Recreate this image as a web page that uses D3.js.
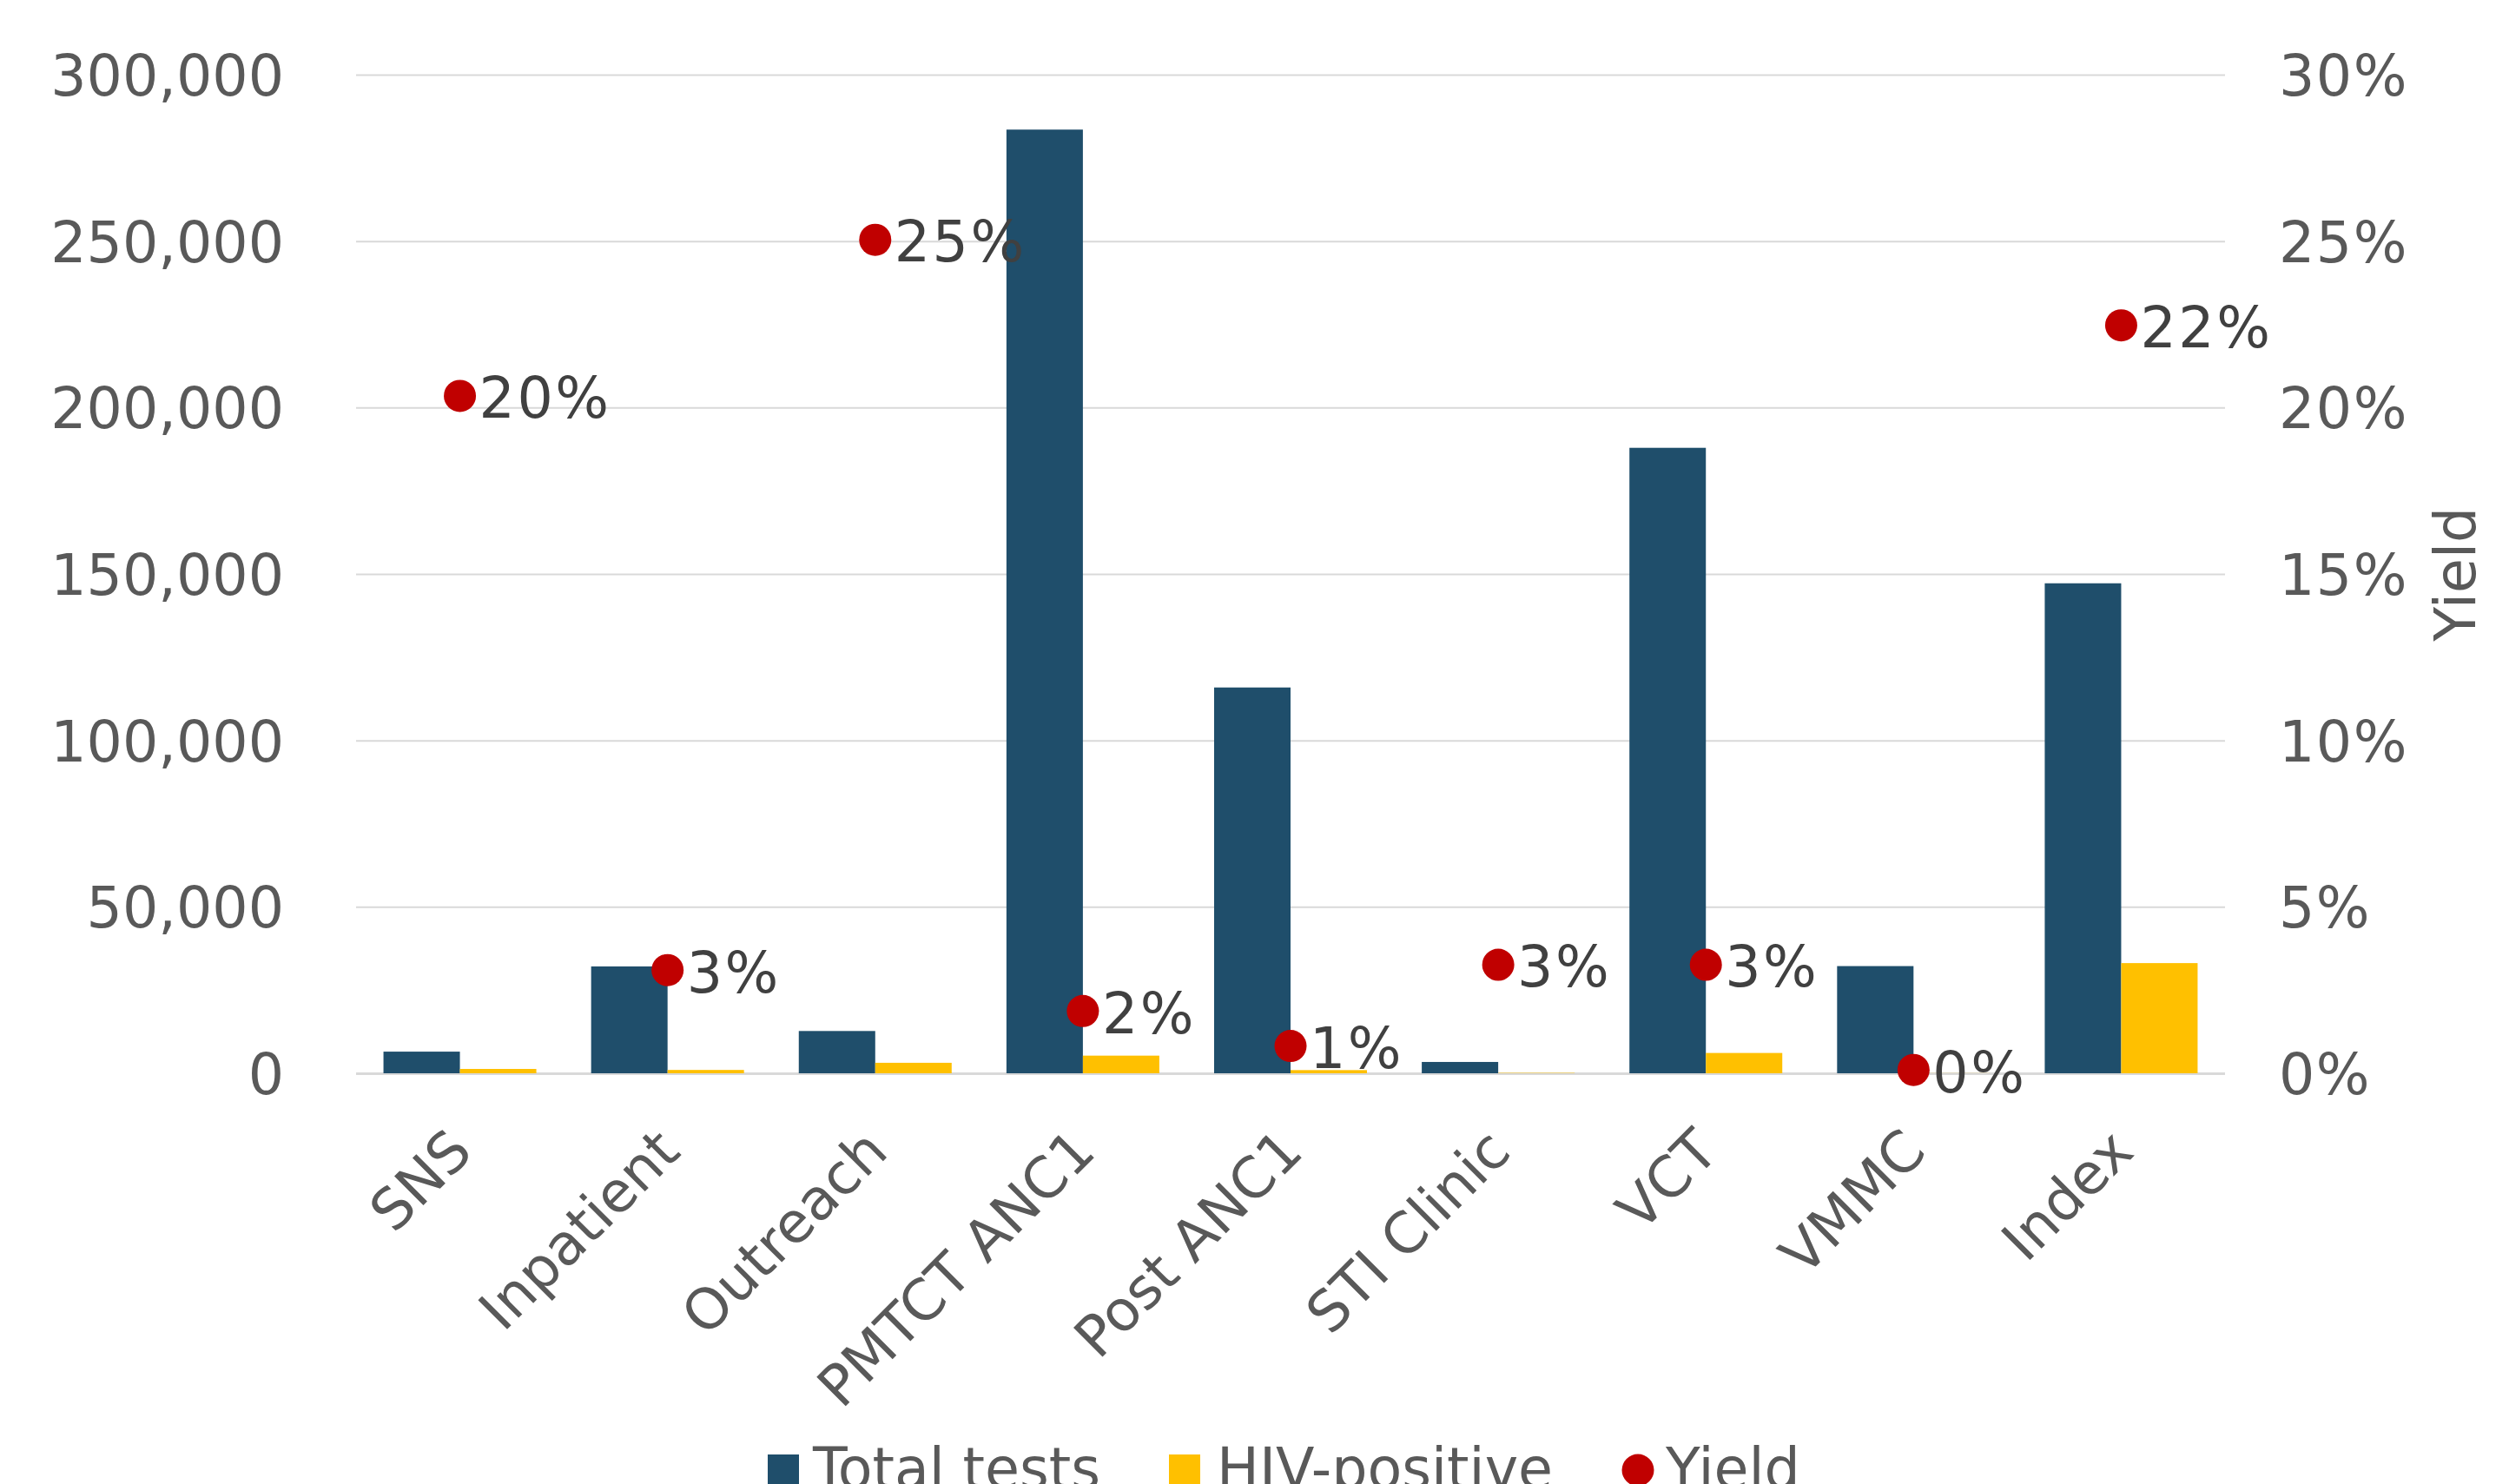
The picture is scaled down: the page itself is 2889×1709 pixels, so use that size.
<!DOCTYPE html>
<html>
<head>
<meta charset="utf-8">
<script src="https://cdn.jsdelivr.net/npm/d3@7"></script>
<style>
  html, body { margin: 0; padding: 0; background: #ffffff; overflow: hidden; }
  svg { display: block; }
  text { font-family: Verdana, "DejaVu Sans", sans-serif; }
</style>
</head>
<body>
<svg id="chart" width="2889" height="1709"></svg>
<script>
const categories = ["SNS", "Inpatient", "Outreach", "PMTCT ANC1", "Post ANC1", "STI Clinic", "VCT", "VMMC", "Index"];
const totalTests = [6500, 32100, 12700, 283500, 115900, 3400, 187900, 32200, 147200];
const hivPositive = [1300, 1000, 3150, 5300, 950, 110, 6100, 30, 33100];
const yieldPct = [0.2035, 0.031, 0.2504, 0.0187, 0.0082, 0.0326, 0.0326, 0.001, 0.2247];
const yieldLabels = ["20%", "3%", "25%", "2%", "1%", "3%", "3%", "0%", "22%"];
const leftTicks = [0, 50000, 100000, 150000, 200000, 250000, 300000];
const rightTicks = [0, 0.05, 0.10, 0.15, 0.20, 0.25, 0.30];
const seriesNames = ["Total tests", "HIV-positive", "Yield"];

const colors = { total: "#1F4E6B", hiv: "#FFC000", yield: "#C00000" };
const axisColor = "#595959";
const labelColor = "#404040";
const gridColor = "#D9D9D9";
const fontSize = 65;

const plot = { left: 410, right: 2562, top: 86, bottom: 1236 };

const svg = d3.select("#chart");

const x0 = d3.scaleBand().domain(categories).range([plot.left, plot.right]).paddingInner(0).paddingOuter(0);
const x1 = d3.scaleBand().domain(["total", "hiv"]).range([0, x0.bandwidth()]).paddingInner(0).paddingOuter(0.3585);
const y = d3.scaleLinear().domain([0, 300000]).range([plot.bottom, plot.top]);
const y2 = d3.scaleLinear().domain([0, 0.30]).range([plot.bottom, plot.top]);

// gridlines
const grid = svg.append("g")
  .attr("transform", `translate(${plot.left},0)`)
  .call(d3.axisLeft(y).tickValues(leftTicks).tickSize(-(plot.right - plot.left)).tickFormat(""));
grid.select(".domain").remove();
grid.selectAll(".tick line").attr("stroke", gridColor).attr("stroke-width", 2);
grid.selectAll(".tick").filter(d => d === 0).select("line").attr("stroke-width", 3);

// left axis labels
const leftAxis = svg.append("g")
  .attr("transform", `translate(${plot.left - 83},0)`)
  .call(d3.axisLeft(y).tickValues(leftTicks).tickSize(0).tickPadding(0).tickFormat(d3.format(",")));
leftAxis.select(".domain").remove();
leftAxis.selectAll("text")
  .attr("font-family", "Verdana, DejaVu Sans, sans-serif")
  .attr("font-size", fontSize).attr("fill", axisColor).attr("dy", "0.36em");

// right axis labels
const rightAxis = svg.append("g")
  .attr("transform", `translate(2624,0)`)
  .call(d3.axisRight(y2).tickValues(rightTicks).tickSize(0).tickPadding(0).tickFormat(d3.format(".0%")));
rightAxis.select(".domain").remove();
rightAxis.selectAll("text")
  .attr("font-family", "Verdana, DejaVu Sans, sans-serif")
  .attr("font-size", fontSize).attr("fill", axisColor).attr("dy", "0.36em")
  .attr("letter-spacing", 1.5);

// right axis title
svg.append("text")
  .attr("transform", `translate(2850,${(plot.top + plot.bottom) / 2}) rotate(-90)`)
  .attr("text-anchor", "middle")
  .attr("font-size", fontSize).attr("fill", axisColor)
  .text("Yield");

// bars
const groups = svg.append("g").selectAll("g")
  .data(categories.map((c, i) => ({ c, total: totalTests[i], hiv: hivPositive[i] })))
  .join("g")
  .attr("transform", d => `translate(${x0(d.c)},0)`);

groups.append("rect")
  .attr("x", x1("total")).attr("width", x1.bandwidth())
  .attr("y", d => y(d.total)).attr("height", d => y(0) - y(d.total))
  .attr("fill", colors.total);
groups.append("rect")
  .attr("x", x1("hiv")).attr("width", x1.bandwidth())
  .attr("y", d => y(d.hiv)).attr("height", d => y(0) - y(d.hiv))
  .attr("fill", colors.hiv);

// category labels
svg.append("g").selectAll("text")
  .data(categories)
  .join("text")
  .attr("transform", d => `translate(${x0(d) + x0.bandwidth() / 2 + 17},${plot.bottom + 93}) rotate(-45)`)
  .attr("text-anchor", "end")
  .attr("font-size", fontSize).attr("fill", axisColor)
  .text(d => d);

// yield points
const pts = categories.map((c, i) => ({ c, v: yieldPct[i], label: yieldLabels[i] }));
svg.append("g").selectAll("circle")
  .data(pts).join("circle")
  .attr("cx", d => x0(d.c) + x0.bandwidth() / 2)
  .attr("cy", d => y2(d.v))
  .attr("r", 18.5)
  .attr("fill", colors.yield);

svg.append("g").selectAll("text")
  .data(pts).join("text")
  .attr("x", d => x0(d.c) + x0.bandwidth() / 2 + 22)
  .attr("y", d => y2(d.v))
  .attr("dy", "0.39em")
  .attr("letter-spacing", 2.5)
  .attr("font-size", fontSize).attr("fill", labelColor)
  .text(d => d.label);

// legend
const legend = svg.append("g");
const legendItems = [
  { name: seriesNames[0], type: "rect", color: colors.total, x: 884, tx: 936 },
  { name: seriesNames[1], type: "rect", color: colors.hiv, x: 1346, tx: 1401 },
  { name: seriesNames[2], type: "circle", color: colors.yield, x: 1868, tx: 1918 }
];
const legBase = 1714;
legendItems.forEach(it => {
  if (it.type === "rect") {
    legend.append("rect").attr("x", it.x).attr("y", 1675).attr("width", 36).attr("height", 36).attr("fill", it.color);
  } else {
    legend.append("circle").attr("cx", it.x + 18).attr("cy", 1693).attr("r", 18.5).attr("fill", it.color);
  }
  legend.append("text").attr("x", it.tx).attr("y", legBase)
    .attr("font-size", fontSize).attr("fill", axisColor).text(it.name);
});
</script>
</body>
</html>
